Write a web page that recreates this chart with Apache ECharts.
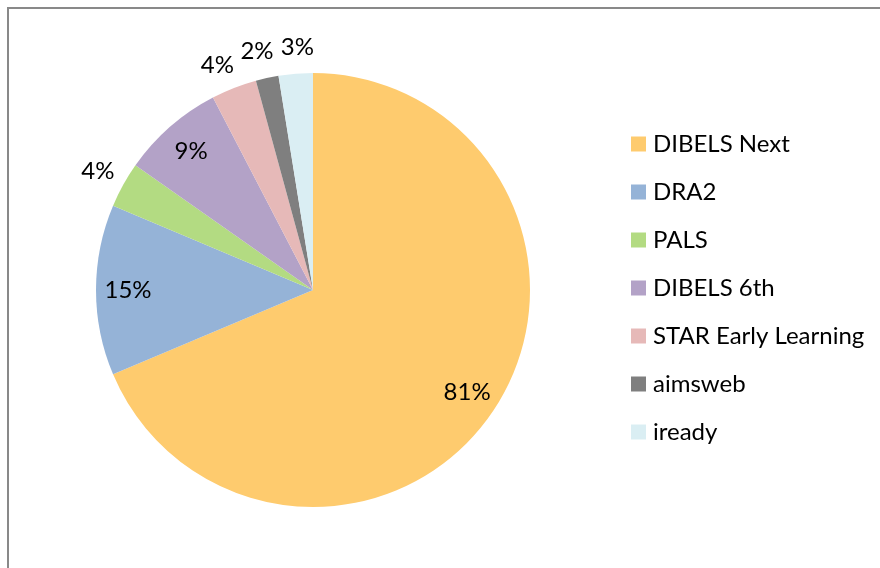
<!DOCTYPE html>
<html>
<head>
<meta charset="utf-8">
<script src="https://cdn.jsdelivr.net/npm/echarts@6/dist/echarts.min.js"></script>
<style>
  html, body { margin: 0; padding: 0; background: #fff; overflow: hidden; }
  #chart { width: 880px; height: 568px; }
</style>
</head>
<body>
<div id="chart"></div>
<script>
const categories = ['DIBELS Next', 'DRA2', 'PALS', 'DIBELS 6th', 'STAR Early Learning', 'aimsweb', 'iready']
const values = [81, 15, 4, 9, 4, 2, 3]
const colors = ['#FECB6E', '#95B3D7', '#B3DB82', '#B3A2C7', '#E6B9B8', '#7F7F7F', '#DAEEF3']
// which labels sit inside the slice, the rest go just outside the rim
const insideLabel = [true, true, false, true, false, false, false]

const font = 'Lato, "Open Sans", sans-serif'
const center = [313, 290]
const r = 217

// small nudges so the crowded top labels don't touch (like Excel's best fit)
const labelNudge = {
  'STAR Early Learning': [-6, 4],
  'aimsweb': [-4, 2],
  'iready': [4, 2]
}

const chart = echarts.init(document.getElementById('chart'))

function labelSeries(inner, outer, showInside) {
  return {
    type: 'pie',
    silent: true,
    center: center,
    radius: [inner, outer],
    startAngle: 90,
    avoidLabelOverlap: false,
    emphasis: { disabled: true },
    tooltip: { show: false },
    itemStyle: { color: 'transparent', borderWidth: 0 },
    labelLine: { show: false },
    labelLayout: { hideOverlap: false },
    label: {
      position: 'inside',
      formatter: '{c}%',
      color: '#000',
      fontFamily: font,
      fontSize: 24
    },
    data: categories.map((name, i) => ({
      name: name,
      value: values[i],
      label: {
        show: insideLabel[i] === showInside,
        offset: labelNudge[name] || [0, 0]
      }
    }))
  }
}

chart.setOption({
  animation: false,
  color: colors,
  graphic: [{
    type: 'rect',
    shape: { x: 8, y: 8, width: 1000, height: 1000 },
    style: { fill: 'none', stroke: '#898989', lineWidth: 2 },
    silent: true
  }],
  legend: {
    orient: 'vertical',
    left: 631,
    top: 132,
    padding: 0,
    itemWidth: 15,
    itemHeight: 15,
    itemGap: 24,
    icon: 'rect',
    data: categories,
    textStyle: {
      fontFamily: font,
      fontSize: 24,
      lineHeight: 24,
      color: '#000',
      padding: [0, 0, 0, 2]
    }
  },
  series: [
    {
      type: 'pie',
      center: center,
      radius: r,
      startAngle: 90,
      label: { show: false },
      labelLine: { show: false },
      itemStyle: { borderWidth: 0 },
      data: categories.map((name, i) => ({ name: name, value: values[i] }))
    },
    labelSeries(147, r, true),
    labelSeries(176, 310, false)
  ]
})
</script>
</body>
</html>
